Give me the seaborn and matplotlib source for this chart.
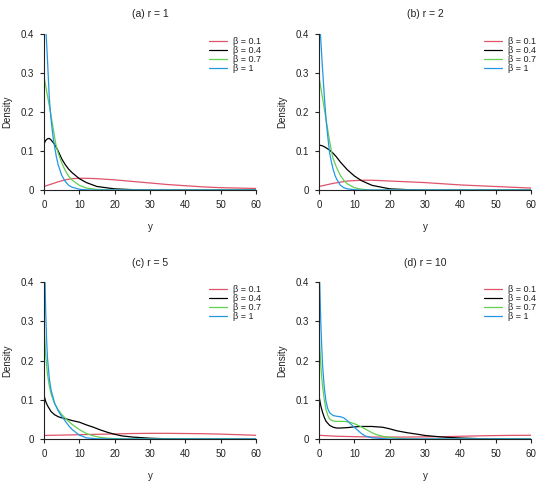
import matplotlib
matplotlib.use("Agg")
import matplotlib.pyplot as plt
import seaborn as sns
import pandas as pd

# ---------------------------------------------------------------------------
# values (density curves, 4 panels x 4 betas)
# ---------------------------------------------------------------------------
betas = ["β = 0.1", "β = 0.4", "β = 0.7", "β = 1"]
colores = ["#DF536B", "#000000", "#61D04F", "#2297E6"]
titulos = ["(a) r = 1", "(b) r = 2", "(c) r = 5", "(d) r = 10"]

x_ticks = [0, 10, 20, 30, 40, 50, 60]
y_ticks = [0, 0.1, 0.2, 0.3, 0.4]
y_tick_labels = ["0", "0.1", "0.2", "0.3", "0.4"]

# panel (a) r = 1
a_red_x = [0, 2, 4, 6, 8, 10, 12, 15, 20, 25, 30, 35, 40, 45, 50, 55, 60]
a_red_y = [0.009, 0.015, 0.021, 0.026, 0.029, 0.030, 0.030, 0.029, 0.026, 0.022,
           0.018, 0.014, 0.011, 0.008, 0.006, 0.005, 0.004]
a_blk_x = [0, 0.5, 1, 1.5, 2, 3, 4, 5, 6, 7, 8, 10, 12, 15, 20, 25, 30, 60]
a_blk_y = [0.118, 0.127, 0.131, 0.132, 0.128, 0.117, 0.100, 0.080, 0.065, 0.053,
           0.044, 0.029, 0.019, 0.009, 0.003, 0.001, 0, 0]
a_grn_x = [0, 1, 2, 3, 3.4, 4, 5, 6, 7, 8, 10, 12, 15, 20, 60]
a_grn_y = [0.29, 0.24, 0.19, 0.135, 0.115, 0.095, 0.07, 0.05, 0.035, 0.025,
           0.012, 0.005, 0.0015, 0, 0]
a_blu_x = [0, 0.6, 1, 1.5, 2, 2.5, 3, 3.5, 4, 5, 6, 7, 8, 10, 12, 15, 60]
a_blu_y = [0.52, 0.40, 0.33, 0.235, 0.18, 0.14, 0.11, 0.085, 0.065, 0.038,
           0.022, 0.012, 0.007, 0.002, 0.0005, 0, 0]

# panel (b) r = 2
b_red_x = [0, 2, 4, 6, 8, 10, 12, 15, 20, 25, 30, 35, 40, 45, 50, 55, 60]
b_red_y = [0.009, 0.013, 0.017, 0.020, 0.023, 0.024, 0.025, 0.025, 0.023, 0.021,
           0.019, 0.016, 0.013, 0.011, 0.009, 0.007, 0.005]
b_blk_x = [0, 1, 2, 3, 4, 5, 6, 7, 8, 10, 12, 15, 20, 25, 30, 60]
b_blk_y = [0.115, 0.113, 0.108, 0.102, 0.094, 0.084, 0.072, 0.062, 0.052, 0.036,
           0.024, 0.012, 0.003, 0.001, 0, 0]
b_grn_x = [0, 1, 2, 3, 3.6, 4, 5, 6, 7, 8, 10, 12, 15, 60]
b_grn_y = [0.29, 0.235, 0.18, 0.125, 0.096, 0.08, 0.057, 0.038, 0.025, 0.016,
           0.006, 0.002, 0, 0]
b_blu_x = [0, 0.4, 1, 1.5, 2, 2.5, 3, 3.5, 4, 4.5, 5, 6, 7, 8, 10, 12, 60]
b_blu_y = [0.45, 0.40, 0.31, 0.24, 0.18, 0.135, 0.095, 0.072, 0.053, 0.038,
           0.028, 0.013, 0.006, 0.003, 0.0008, 0, 0]

# panel (c) r = 5
c_red_x = [0, 5, 10, 15, 20, 25, 30, 35, 40, 45, 50, 55, 60]
c_red_y = [0.009, 0.010, 0.011, 0.012, 0.013, 0.014, 0.0145, 0.0145, 0.014,
           0.0135, 0.0125, 0.011, 0.0095]
c_blk_x = [0, 0.5, 1, 2, 3, 4, 5, 6, 8, 10, 12, 14, 16, 18, 20, 22, 25, 30, 35, 40, 60]
c_blk_y = [0.112, 0.095, 0.085, 0.07, 0.062, 0.057, 0.054, 0.052, 0.047, 0.043,
           0.036, 0.03, 0.023, 0.017, 0.012, 0.008, 0.005, 0.002, 0.0005, 0, 0]
c_grn_x = [0, 0.5, 1, 1.5, 2, 3, 4, 5, 6, 7, 8, 10, 12, 14, 16, 18, 20, 25, 60]
c_grn_y = [0.29, 0.21, 0.165, 0.135, 0.115, 0.09, 0.075, 0.063, 0.053, 0.045,
           0.037, 0.024, 0.014, 0.008, 0.004, 0.002, 0.001, 0, 0]
c_blu_x = [0, 0.3, 0.5, 0.75, 1, 1.5, 2, 3, 4, 5, 6, 7, 8, 10, 12, 15, 20, 60]
c_blu_y = [0.6, 0.40, 0.32, 0.25, 0.205, 0.155, 0.125, 0.092, 0.072, 0.058,
           0.046, 0.034, 0.024, 0.01, 0.003, 0.0005, 0, 0]

# panel (d) r = 10
d_red_x = [0, 5, 10, 15, 20, 25, 30, 35, 40, 45, 50, 55, 60]
d_red_y = [0.0095, 0.007, 0.006, 0.0052, 0.005, 0.005, 0.0055, 0.006, 0.007,
           0.008, 0.0088, 0.0093, 0.0095]
d_blk_x = [0, 0.5, 1, 1.5, 2, 3, 4, 5, 6, 8, 10, 12, 15, 18, 20, 22, 25, 28, 30,
           35, 40, 45, 50, 60]
d_blk_y = [0.11, 0.085, 0.068, 0.055, 0.045, 0.035, 0.03, 0.028, 0.028, 0.029,
           0.031, 0.032, 0.032, 0.03, 0.026, 0.021, 0.016, 0.012, 0.009, 0.005,
           0.0025, 0.001, 0.0003, 0]
d_grn_x = [0, 0.25, 0.5, 0.75, 1, 1.5, 2, 2.5, 3, 4, 5, 6, 7, 8, 9, 10, 11, 12,
           13, 14, 15, 16, 18, 20, 22, 25, 30, 60]
d_grn_y = [0.29, 0.23, 0.19, 0.16, 0.135, 0.1, 0.075, 0.06, 0.051, 0.046, 0.045,
           0.045, 0.045, 0.044, 0.042, 0.039, 0.035, 0.031, 0.026, 0.021, 0.016,
           0.012, 0.007, 0.004, 0.002, 0.0005, 0, 0]
d_blu_x = [0, 0.2, 0.5, 0.75, 1, 1.5, 2, 2.5, 3, 4, 5, 6, 7, 8, 9, 10, 11, 12,
           13, 15, 18, 20, 60]
d_blu_y = [0.6, 0.40, 0.30, 0.24, 0.19, 0.13, 0.095, 0.077, 0.067, 0.06, 0.058,
           0.057, 0.054, 0.047, 0.038, 0.03, 0.022, 0.014, 0.008, 0.003, 0.001,
           0, 0]

paneles = [
    [(a_red_x, a_red_y), (a_blk_x, a_blk_y), (a_grn_x, a_grn_y), (a_blu_x, a_blu_y)],
    [(b_red_x, b_red_y), (b_blk_x, b_blk_y), (b_grn_x, b_grn_y), (b_blu_x, b_blu_y)],
    [(c_red_x, c_red_y), (c_blk_x, c_blk_y), (c_grn_x, c_grn_y), (c_blu_x, c_blu_y)],
    [(d_red_x, d_red_y), (d_blk_x, d_blk_y), (d_grn_x, d_grn_y), (d_blu_x, d_blu_y)],
]

# axes rectangles in figure fraction (left, bottom, width, height)
posiciones = [
    [0.080, 0.609, 0.3855, 0.322],
    [0.580, 0.609, 0.3855, 0.322],
    [0.080, 0.0967, 0.3855, 0.3224],
    [0.580, 0.0967, 0.3855, 0.3224],
]

sns.set_theme(style="ticks", rc={
    "axes.edgecolor": "#222222",
    "axes.linewidth": 0.8,
    "xtick.color": "#222222",
    "ytick.color": "#222222",
    "xtick.major.size": 3,
    "ytick.major.size": 3,
    "xtick.major.width": 0.8,
    "ytick.major.width": 0.8,
    "xtick.major.pad": 4,
    "ytick.major.pad": 4,
    "text.color": "#222222",
    "axes.labelcolor": "#222222",
})
plt.rcParams["font.family"] = ["Liberation Sans", "DejaVu Sans"]

fig = plt.figure(figsize=(5.5, 4.86), dpi=100)

for titulo, series, pos in zip(titulos, paneles, posiciones):
    ax = fig.add_axes(pos)
    for (xs, ys), beta, color in zip(series, betas, colores):
        df = pd.DataFrame({"y": xs, "densidad": ys})
        sns.lineplot(data=df, x="y", y="densidad", color=color, linewidth=0.9,
                     label=beta, ax=ax)
    ax.set_xlim(0, 60)
    ax.set_ylim(0, 0.4)
    ax.set_xticks(x_ticks)
    ax.set_xticklabels([str(t) for t in x_ticks], fontsize=7)
    ax.set_yticks(y_ticks)
    ax.set_yticklabels(y_tick_labels, fontsize=7)
    ax.set_xlabel("y", fontsize=7, labelpad=9)
    ax.set_ylabel("Density", fontsize=7, labelpad=6)
    ax.set_title(titulo, fontsize=7.5, pad=12)
    sns.despine(ax=ax)
    ax.legend(loc="upper left", bbox_to_anchor=(0.78, 0.98), frameon=False,
              fontsize=6.5, borderpad=0, borderaxespad=0, labelspacing=0.0,
              handlelength=1.9, handletextpad=0.7)

fig.savefig("out.png", dpi=100)
plt.close(fig)
